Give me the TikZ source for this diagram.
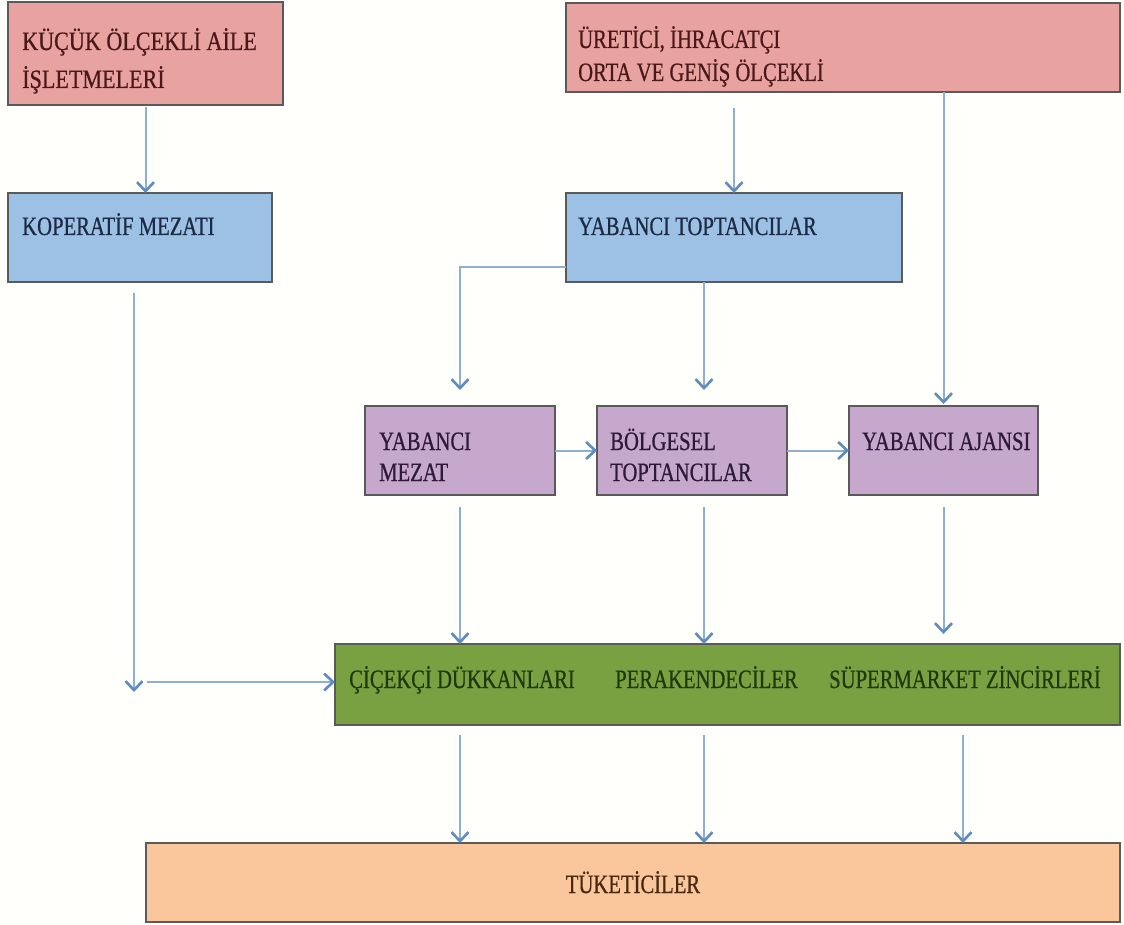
\documentclass[tikz,border=0pt]{standalone}
\usepackage{fontspec}
\setmainfont{Liberation Serif}[FakeStretch=0.78,FakeBold=0.6]
\usetikzlibrary{arrows.meta}
\definecolor{bgc}{HTML}{FFFFFB}
\definecolor{pinkc}{HTML}{E8A3A1}
\definecolor{bluec}{HTML}{9DC0E5}
\definecolor{purplec}{HTML}{C6A8CC}
\definecolor{greenc}{HTML}{79A142}
\definecolor{orangec}{HTML}{FAC79D}
\definecolor{linec}{HTML}{8EAED3}
\definecolor{tipc}{HTML}{5E8BC0}
\definecolor{bordc}{HTML}{5A5A5A}
\definecolor{tpink}{HTML}{4A1818}
\definecolor{tblue}{HTML}{1C2B45}
\definecolor{tpurple}{HTML}{2E1A36}
\definecolor{tgreen}{HTML}{1D3A0C}
\definecolor{torange}{HTML}{4A2810}
\tikzset{
  box/.style={draw=bordc, line width=1.5pt, inner sep=0pt, outer sep=0pt, anchor=north west, rectangle},
  txt/.style={anchor=base west, inner sep=0pt, font=\fontsize{26.5}{30}\selectfont},
  conn/.style={draw=linec, line width=2pt, -{Straight Barb[length=9pt, width=17pt, line width=2.6pt, color=tipc]}}
}
\begin{document}
\begin{tikzpicture}[x=1pt,y=-1pt]
\fill[bgc] (0,0) rectangle (1124,925);
\useasboundingbox (0,0) rectangle (1124,925);
% boxes
\node[box, fill=pinkc, minimum width=275pt, minimum height=103pt] (A) at (8,2) {};
\node[box, fill=pinkc, minimum width=554pt, minimum height=89pt] (B) at (566,3) {};
\node[box, fill=bluec, minimum width=264pt, minimum height=89pt] (KOP) at (8,193) {};
\node[box, fill=bluec, minimum width=336pt, minimum height=89pt] (YT) at (566,193) {};
\node[box, fill=purplec, minimum width=190pt, minimum height=89pt] (YM) at (365,406) {};
\node[box, fill=purplec, minimum width=190pt, minimum height=89pt] (BT) at (597,406) {};
\node[box, fill=purplec, minimum width=189pt, minimum height=89pt] (YA) at (849,406) {};
\node[box, fill=greenc, minimum width=785pt, minimum height=81pt] (G) at (335,644) {};
\node[box, fill=orangec, minimum width=974pt, minimum height=79pt] (T) at (146,843) {};
% texts
\node[txt, text=tpink, xscale=1.07] (tA1) at (22,50) {KÜÇÜK ÖLÇEKLİ AİLE};
\node[txt, text=tpink, xscale=1.07] (tA2) at (22,88) {İŞLETMELERİ};
\node[txt, text=tpink] (tB1) at (578,48) {ÜRETİCİ, İHRACATÇI};
\node[txt, text=tpink] (tB2) at (578,81) {ORTA VE GENİŞ ÖLÇEKLİ};
\node[txt, text=tblue] (tK) at (22,235) {KOPERATİF MEZATI};
\node[txt, text=tblue] (tY) at (578,235) {YABANCI TOPTANCILAR};
\node[txt, text=tpurple] (tYM1) at (379,450) {YABANCI};
\node[txt, text=tpurple] (tYM2) at (379,481) {MEZAT};
\node[txt, text=tpurple] (tBT1) at (610,450) {BÖLGESEL};
\node[txt, text=tpurple] (tBT2) at (610,481) {TOPTANCILAR};
\node[txt, text=tpurple] (tYA) at (862,450) {YABANCI AJANSI};
\node[txt, text=tgreen] (tG1) at (349,688) {ÇİÇEKÇİ DÜKKANLARI};
\node[txt, text=tgreen] (tG2) at (615,688) {PERAKENDECİLER};
\node[txt, text=tgreen] (tG3) at (829,688) {SÜPERMARKET ZİNCİRLERİ};
\node[txt, text=torange, anchor=base] (tT) at (633,893) {TÜKETİCİLER};
% helper coordinates
\coordinate (cx) at (704,0);
\coordinate (cr) at (963,0);
\coordinate (k1) at (134,692);
\coordinate (k2) at (147,682);
% connectors
\draw[conn] ([yshift=-2pt]A.south) -- (A.south |- KOP.north);
\draw[conn] ([yshift=-16pt]YT.north |- B.south) -- (YT.north);
\draw[conn] (YA.north |- B.south) -- ([yshift=2pt]YA.north);
\draw[conn] ([yshift=-30pt]YT.west) -| ([yshift=16pt]YM.north);
\draw[conn] (YT.south -| cx) -- ([yshift=16pt]BT.north -| cx);
\draw[conn] (YM.east) -- (BT.west);
\draw[conn] (BT.east) -- (YA.west);
\draw[conn] ([yshift=-12pt]YM.south) -- (YM.south |- G.north);
\draw[conn] ([yshift=-12pt]BT.south -| cx) -- (G.north -| cx);
\draw[conn] ([yshift=-12pt]YA.south) -- ([yshift=10pt]YA.south |- G.north);
\draw[conn] ([yshift=-11pt]KOP.south -| k1) -- (k1);
\draw[conn] (k2) -- (G.west |- k2);
\draw[conn] ([yshift=-10pt]G.south -| YM.south) -- (T.north -| YM.south);
\draw[conn] ([yshift=-10pt]G.south -| cx) -- (T.north -| cx);
\draw[conn] ([yshift=-10pt]G.south -| cr) -- (T.north -| cr);
\end{tikzpicture}
\end{document}
